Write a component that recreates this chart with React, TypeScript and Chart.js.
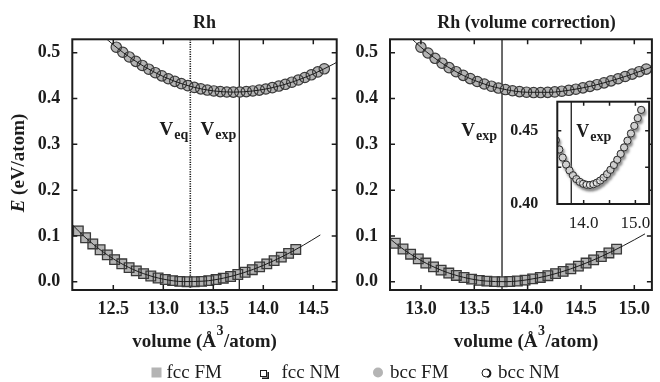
import React, { useEffect, useRef } from 'react';
import { Chart, registerables } from 'chart.js';

Chart.register(...registerables);

const FONT = '"Liberation Serif", "Times New Roman", serif';
const INK = '#1c1c1c';
const FILL = '#b4b4b4';
const EDGE = '#3a3a3a';

// ---------- Left panel: Rh ----------
const leftFccVolume = [12.150, 12.223, 12.295, 12.368, 12.440, 12.513, 12.585, 12.658, 12.730, 12.803, 12.875, 12.948, 13.020, 13.093, 13.165, 13.238, 13.310, 13.383, 13.455, 13.528, 13.600, 13.673, 13.745, 13.818, 13.890, 13.963, 14.035, 14.108, 14.180, 14.253, 14.325];
const leftFccEnergy = [0.1110, 0.0961, 0.0825, 0.0699, 0.0587, 0.0483, 0.0392, 0.0309, 0.0238, 0.0177, 0.0125, 0.0082, 0.0049, 0.0024, 0.0008, 0.0001, 0.0001, 0.0009, 0.0025, 0.0048, 0.0078, 0.0115, 0.0158, 0.0208, 0.0263, 0.0324, 0.0390, 0.0462, 0.0538, 0.0620, 0.0705];
const leftFccFitVolume = [12.0, 12.2, 12.4, 12.6, 12.8, 13.0, 13.2, 13.4, 13.6, 13.8, 14.0, 14.2, 14.4, 14.57];
const leftFccFitEnergy = [0.1455, 0.1007, 0.0648, 0.0374, 0.0179, 0.0057, 0.0004, 0.0013, 0.0078, 0.0195, 0.0357, 0.0560, 0.0797, 0.1022];
const leftBccVolume = [12.530, 12.595, 12.660, 12.725, 12.790, 12.855, 12.920, 12.985, 13.050, 13.115, 13.180, 13.245, 13.310, 13.375, 13.440, 13.505, 13.570, 13.635, 13.700, 13.765, 13.830, 13.895, 13.960, 14.025, 14.090, 14.155, 14.220, 14.285, 14.350, 14.415, 14.480, 14.545, 14.610];
const leftBccEnergy = [0.5120, 0.5010, 0.4908, 0.4812, 0.4722, 0.4640, 0.4564, 0.4495, 0.4432, 0.4375, 0.4325, 0.4281, 0.4243, 0.4211, 0.4185, 0.4165, 0.4151, 0.4143, 0.4140, 0.4143, 0.4151, 0.4165, 0.4184, 0.4208, 0.4237, 0.4272, 0.4311, 0.4356, 0.4405, 0.4459, 0.4518, 0.4581, 0.4649];
const leftBccFitVolume = [12.3, 12.5, 12.7, 12.9, 13.1, 13.3, 13.5, 13.7, 13.9, 14.1, 14.3, 14.5, 14.7, 14.75];
const leftBccFitEnergy = [0.5565, 0.5173, 0.4848, 0.4587, 0.4388, 0.4249, 0.4167, 0.4140, 0.4166, 0.4242, 0.4367, 0.4537, 0.4750, 0.4810];

// ---------- Right panel: Rh (volume correction) ----------
const rightFccVolume = [12.760, 12.832, 12.903, 12.975, 13.046, 13.118, 13.189, 13.261, 13.332, 13.404, 13.475, 13.547, 13.618, 13.690, 13.761, 13.833, 13.904, 13.976, 14.047, 14.119, 14.190, 14.262, 14.333, 14.405, 14.476, 14.548, 14.619, 14.691, 14.762, 14.834];
const rightFccEnergy = [0.0840, 0.0715, 0.0602, 0.0499, 0.0408, 0.0325, 0.0253, 0.0190, 0.0138, 0.0093, 0.0058, 0.0031, 0.0013, 0.0003, 0.0000, 0.0005, 0.0017, 0.0036, 0.0062, 0.0094, 0.0132, 0.0177, 0.0227, 0.0282, 0.0342, 0.0408, 0.0477, 0.0552, 0.0629, 0.0712];
const rightFccFitVolume = [12.6, 12.8, 13.0, 13.2, 13.4, 13.6, 13.8, 14.0, 14.2, 14.4, 14.6, 14.8, 15.0, 15.1];
const rightFccFitEnergy = [0.1159, 0.0769, 0.0466, 0.0243, 0.0096, 0.0017, 0.0002, 0.0044, 0.0138, 0.0278, 0.0458, 0.0672, 0.0915, 0.1045];
const rightBccVolume = [13.000, 13.066, 13.132, 13.198, 13.264, 13.330, 13.396, 13.462, 13.528, 13.594, 13.660, 13.726, 13.792, 13.858, 13.924, 13.990, 14.056, 14.122, 14.188, 14.254, 14.320, 14.386, 14.452, 14.518, 14.584, 14.650, 14.716, 14.782, 14.848, 14.914, 14.980, 15.046, 15.112];
const rightBccEnergy = [0.5120, 0.4994, 0.4878, 0.4771, 0.4674, 0.4586, 0.4506, 0.4435, 0.4372, 0.4317, 0.4269, 0.4229, 0.4196, 0.4170, 0.4151, 0.4138, 0.4131, 0.4130, 0.4135, 0.4145, 0.4160, 0.4180, 0.4204, 0.4233, 0.4266, 0.4302, 0.4342, 0.4386, 0.4432, 0.4481, 0.4533, 0.4586, 0.4642];
const rightBccFitVolume = [12.8, 13.0, 13.2, 13.4, 13.6, 13.8, 14.0, 14.2, 14.4, 14.6, 14.8, 15.0, 15.2];
const rightBccFitEnergy = [0.5564, 0.5120, 0.4768, 0.4501, 0.4312, 0.4193, 0.4137, 0.4136, 0.4185, 0.4274, 0.4398, 0.4549, 0.4719];

// ---------- Ticks, markers, labels ----------
const leftXTicks = [12.5, 13.0, 13.5, 14.0, 14.5];
const rightXTicks = [13.0, 13.5, 14.0, 14.5, 15.0];
const energyTicks = [0, 0.1, 0.2, 0.3, 0.4, 0.5];
const insetXTicks = [14.0, 14.5, 15.0];
const insetXLabels = ['14.0', '', '15.0'];
const insetYTicks = [0.40, 0.425, 0.45];
const insetYLabels = ['0.40', '', '0.45'];
const V_EQ = 13.27;
const V_EXP = 13.76;
const legendLabels = ['fcc FM', 'fcc NM', 'bcc FM', 'bcc NM'];
const titleLeft = 'Rh';
const titleRight = 'Rh (volume correction)';

type Pt = { x: number; y: number };
const pts = (xs: number[], ys: number[]): Pt[] => xs.map((x, i) => ({ x, y: ys[i] }));

function fixedTicks(values: number[]) {
  return (scale: any) => {
    scale.ticks = values.map((value) => ({ value }));
  };
}

function frame(chart: any, xt: number[], yt: number[], len: number) {
  const { ctx, chartArea: a, scales } = chart;
  ctx.save();
  ctx.strokeStyle = INK;
  ctx.lineWidth = 1.5;
  ctx.beginPath();
  xt.forEach((v) => {
    const x = scales.x.getPixelForValue(v);
    ctx.moveTo(x, a.top);
    ctx.lineTo(x, a.top + len);
    ctx.moveTo(x, a.bottom);
    ctx.lineTo(x, a.bottom - len);
  });
  yt.forEach((v) => {
    const y = scales.y.getPixelForValue(v);
    ctx.moveTo(a.left, y);
    ctx.lineTo(a.left + len, y);
    ctx.moveTo(a.right, y);
    ctx.lineTo(a.right - len, y);
  });
  ctx.stroke();
  ctx.lineWidth = 2;
  ctx.strokeRect(a.left, a.top, a.right - a.left, a.bottom - a.top);
  ctx.restore();
}

function vLine(chart: any, value: number, dotted: boolean) {
  const { ctx, chartArea: a, scales } = chart;
  const x = scales.x.getPixelForValue(value);
  ctx.save();
  ctx.strokeStyle = INK;
  ctx.lineWidth = dotted ? 1.6 : 1.3;
  ctx.setLineDash(dotted ? [1.2, 1.2] : []);
  ctx.beginPath();
  ctx.moveTo(x, a.top);
  ctx.lineTo(x, a.bottom);
  ctx.stroke();
  ctx.restore();
}

function vLabel(ctx: CanvasRenderingContext2D, sub: string, x: number, y: number, align: 'left' | 'right', size = 19) {
  const big = `bold ${size}px ${FONT}`;
  const small = `bold 14px ${FONT}`;
  ctx.save();
  ctx.font = big;
  const wV = ctx.measureText('V').width;
  ctx.font = small;
  const wS = ctx.measureText(sub).width;
  const x0 = align === 'right' ? x - wV - wS - 1 : x;
  ctx.fillStyle = INK;
  ctx.textAlign = 'left';
  ctx.textBaseline = 'alphabetic';
  ctx.font = big;
  ctx.fillText('V', x0, y);
  ctx.font = small;
  ctx.fillText(sub, x0 + wV + 1, y + 4);
  ctx.restore();
}

function centeredText(ctx: CanvasRenderingContext2D, text: string, cx: number, y: number, font: string) {
  ctx.save();
  ctx.font = font;
  ctx.fillStyle = INK;
  ctx.textAlign = 'center';
  ctx.textBaseline = 'alphabetic';
  ctx.fillText(text, cx, y);
  ctx.restore();
}

function xTitle(ctx: CanvasRenderingContext2D, cx: number, baseline: number) {
  const big = `bold 19px ${FONT}`;
  const small = `bold 14px ${FONT}`;
  const p1 = 'volume (Å';
  const p2 = '3';
  const p3 = '/atom)';
  ctx.save();
  ctx.font = big;
  const w1 = ctx.measureText(p1).width;
  const w3 = ctx.measureText(p3).width;
  ctx.font = small;
  const w2 = ctx.measureText(p2).width + 1;
  let x = cx - (w1 + w2 + w3) / 2;
  ctx.fillStyle = INK;
  ctx.textAlign = 'left';
  ctx.textBaseline = 'alphabetic';
  ctx.font = big;
  ctx.fillText(p1, x, baseline);
  x += w1;
  ctx.font = small;
  ctx.fillText(p2, x + 0.5, baseline - 12);
  x += w2;
  ctx.font = big;
  ctx.fillText(p3, x, baseline);
  ctx.restore();
}

function yTitle(ctx: CanvasRenderingContext2D, xBase: number, cy: number) {
  const it = `italic bold 19px ${FONT}`;
  const b = `bold 19px ${FONT}`;
  ctx.save();
  ctx.translate(xBase, cy);
  ctx.rotate(-Math.PI / 2);
  ctx.fillStyle = INK;
  ctx.textAlign = 'left';
  ctx.textBaseline = 'alphabetic';
  ctx.font = it;
  const wE = ctx.measureText('E').width;
  ctx.font = b;
  const wR = ctx.measureText(' (eV/atom)').width;
  const x = -(wE + wR) / 2;
  ctx.font = it;
  ctx.fillText('E', x, 0);
  ctx.font = b;
  ctx.fillText(' (eV/atom)', x + wE, 0);
  ctx.restore();
}

function drawLegend(ctx: CanvasRenderingContext2D) {
  const base = 378;
  ctx.save();
  ctx.font = `19px ${FONT}`;
  ctx.textAlign = 'left';
  ctx.textBaseline = 'alphabetic';
  // fcc FM
  ctx.fillStyle = FILL;
  ctx.fillRect(151.5, 367.5, 10, 10);
  ctx.fillStyle = INK;
  ctx.fillText(legendLabels[0], 166.5, base);
  // fcc NM
  ctx.strokeStyle = INK;
  ctx.lineWidth = 1;
  ctx.strokeRect(260.5, 370.5, 6, 6);
  ctx.lineWidth = 1.6;
  ctx.beginPath();
  ctx.moveTo(262, 378.2);
  ctx.lineTo(268.2, 378.2);
  ctx.lineTo(268.2, 372);
  ctx.stroke();
  ctx.fillText(legendLabels[1], 281.5, base);
  // bcc FM
  ctx.fillStyle = FILL;
  ctx.beginPath();
  ctx.arc(378, 372.5, 5, 0, Math.PI * 2);
  ctx.fill();
  ctx.fillStyle = INK;
  ctx.fillText(legendLabels[2], 390, base);
  // bcc NM
  ctx.lineWidth = 1;
  ctx.beginPath();
  ctx.arc(486, 373, 4, 0, Math.PI * 2);
  ctx.stroke();
  ctx.lineWidth = 1.6;
  ctx.beginPath();
  ctx.arc(486.6, 373.3, 4, -Math.PI * 0.45, Math.PI * 0.45);
  ctx.stroke();
  ctx.fillText(legendLabels[3], 498, base);
  ctx.restore();
}

function panelDatasets(fccV: number[], fccE: number[], fccFitV: number[], fccFitE: number[], bccV: number[], bccE: number[], bccFitV: number[], bccFitE: number[]) {
  return [
    { label: 'fcc fit', data: pts(fccFitV, fccFitE), showLine: true, pointRadius: 0, borderColor: INK, borderWidth: 1, cubicInterpolationMode: 'monotone', order: 0 },
    { label: 'bcc fit', data: pts(bccFitV, bccFitE), showLine: true, pointRadius: 0, borderColor: INK, borderWidth: 1, cubicInterpolationMode: 'monotone', order: 0 },
    { label: legendLabels[1], data: pts(fccV, fccE), pointStyle: 'rect', pointRadius: 6.8, backgroundColor: 'rgba(0,0,0,0)', borderColor: EDGE, borderWidth: 1.3, order: 1 },
    { label: legendLabels[3], data: pts(bccV, bccE), pointStyle: 'circle', pointRadius: 5.2, backgroundColor: 'rgba(0,0,0,0)', borderColor: EDGE, borderWidth: 1.2, order: 1 },
    { label: legendLabels[0], data: pts(fccV, fccE), pointStyle: 'rect', pointRadius: 7.2, backgroundColor: FILL, borderColor: FILL, borderWidth: 0, order: 2 },
    { label: legendLabels[2], data: pts(bccV, bccE), pointStyle: 'circle', pointRadius: 5.2, backgroundColor: FILL, borderColor: FILL, borderWidth: 0, order: 2 },
  ];
}

function panelOptions(xMin: number, xMax: number, xTicks: number[], padLeft: number, yWidth: number, padRight: number) {
  const tickFont = { family: FONT, size: 18, weight: 'bold' as const };
  return {
    animation: false as const,
    responsive: false,
    events: [] as any[],
    layout: { padding: { left: padLeft, right: padRight, top: 39.3, bottom: 0 } },
    plugins: { legend: { display: false }, tooltip: { enabled: false }, title: { display: false } },
    scales: {
      x: {
        type: 'linear' as const,
        min: xMin,
        max: xMax,
        afterBuildTicks: fixedTicks(xTicks),
        afterFit: (s: any) => { s.height = 92; },
        grid: { display: false, drawTicks: false },
        border: { display: false },
        ticks: { font: tickFont, color: INK, padding: 9, maxRotation: 0, autoSkip: false, callback: (v: any) => Number(v).toFixed(1) },
      },
      y: {
        type: 'linear' as const,
        min: -0.018,
        max: 0.5293,
        afterBuildTicks: fixedTicks(energyTicks),
        afterFit: (s: any) => { s.width = yWidth; },
        grid: { display: false, drawTicks: false },
        border: { display: false },
        ticks: { font: tickFont, color: INK, padding: 12, autoSkip: false, callback: (v: any) => Number(v).toFixed(1) },
      },
    },
  };
}

const leftDeco = {
  id: 'leftDeco',
  beforeDatasetsDraw(chart: any) {
    vLine(chart, V_EQ, true);
    vLine(chart, V_EXP, false);
  },
  afterDraw(chart: any) {
    const { ctx, chartArea: a, scales } = chart;
    frame(chart, leftXTicks, energyTicks, 5);
    vLabel(ctx, 'eq', scales.x.getPixelForValue(V_EQ) - 2, 135, 'right');
    vLabel(ctx, 'exp', scales.x.getPixelForValue(V_EXP) - 3, 135, 'right');
    centeredText(ctx, titleLeft, (a.left + a.right) / 2, 27.6, `bold 18px ${FONT}`);
    xTitle(ctx, (a.left + a.right) / 2, 347);
    yTitle(ctx, 24, 163);
    drawLegend(ctx);
  },
};

const rightDeco = {
  id: 'rightDeco',
  beforeDatasetsDraw(chart: any) {
    vLine(chart, V_EXP, false);
  },
  afterDraw(chart: any) {
    const { ctx, chartArea: a, scales } = chart;
    frame(chart, rightXTicks, energyTicks, 5);
    vLabel(ctx, 'exp', scales.x.getPixelForValue(V_EXP) - 5, 136, 'right');
    centeredText(ctx, titleRight, 526.5, 27.6, `bold 18px ${FONT}`);
    xTitle(ctx, 526, 347);
  },
};

const insetDeco = {
  id: 'insetDeco',
  beforeDraw(chart: any) {
    const { ctx, chartArea: a } = chart;
    ctx.save();
    ctx.fillStyle = '#ffffff';
    ctx.fillRect(a.left, a.top, a.right - a.left, a.bottom - a.top);
    ctx.restore();
  },
  beforeDatasetsDraw(chart: any) {
    vLine(chart, V_EXP, false);
  },
  beforeDatasetDraw(chart: any, args: any) {
    if (args.index === 1) {
      const ctx = chart.ctx;
      ctx.save();
      ctx.shadowColor = 'rgba(140,140,140,1)';
      ctx.shadowOffsetX = 1.5;
      ctx.shadowOffsetY = 2.5;
      ctx.shadowBlur = 2.5;
    }
  },
  afterDatasetDraw(chart: any, args: any) {
    if (args.index === 1) chart.ctx.restore();
  },
  afterDraw(chart: any) {
    const { ctx, scales } = chart;
    frame(chart, insetXTicks, insetYTicks, 4);
    vLabel(ctx, 'exp', scales.x.getPixelForValue(V_EXP) + 5, 136.5, 'left', 18);
  },
};

function leftConfig(): any {
  return {
    type: 'scatter',
    data: { datasets: panelDatasets(leftFccVolume, leftFccEnergy, leftFccFitVolume, leftFccFitEnergy, leftBccVolume, leftBccEnergy, leftBccFitVolume, leftBccFitEnergy) },
    options: panelOptions(12.09, 14.734, leftXTicks, 0, 72.3, 660 - 336.7),
    plugins: [leftDeco],
  };
}

function rightConfig(): any {
  return {
    type: 'scatter',
    data: { datasets: panelDatasets(rightFccVolume, rightFccEnergy, rightFccFitVolume, rightFccFitEnergy, rightBccVolume, rightBccEnergy, rightBccFitVolume, rightBccFitEnergy) },
    options: panelOptions(12.71, 15.165, rightXTicks, 330, 60, 2),
    plugins: [rightDeco],
  };
}

function insetConfig(): any {
  return {
    type: 'scatter',
    data: {
      datasets: [
        { label: legendLabels[3], data: pts(rightBccVolume, rightBccEnergy), pointStyle: 'circle', pointRadius: 3.6, backgroundColor: 'rgba(255,255,255,0.5)', borderColor: '#2c2c2c', borderWidth: 1, order: 0 },
        { label: legendLabels[2], data: pts(rightBccVolume, rightBccEnergy), pointStyle: 'circle', pointRadius: 3.9, backgroundColor: '#a0a0a0', borderColor: '#a0a0a0', borderWidth: 0, order: 1 },
      ],
    },
    options: {
      animation: false,
      responsive: false,
      events: [],
      layout: { padding: { left: 500, right: 5, top: 101.7, bottom: 0 } },
      plugins: { legend: { display: false }, tooltip: { enabled: false }, title: { display: false } },
      scales: {
        x: {
          type: 'linear',
          min: 13.49,
          max: 15.266,
          afterBuildTicks: fixedTicks(insetXTicks),
          afterFit: (s: any) => { s.height = 178; },
          grid: { display: false, drawTicks: false },
          border: { display: false },
          ticks: { font: { family: FONT, size: 17 }, color: INK, padding: 9, maxRotation: 0, autoSkip: false, callback: (_v: any, i: number) => insetXLabels[i] },
        },
        y: {
          type: 'linear',
          min: 0.40,
          max: 0.4698,
          afterBuildTicks: fixedTicks(insetYTicks),
          afterFit: (s: any) => { s.width = 57.3; },
          grid: { display: false, drawTicks: false },
          border: { display: false },
          ticks: { font: { family: FONT, size: 16, weight: 'bold' }, color: INK, padding: 19, autoSkip: false, callback: (_v: any, i: number) => insetYLabels[i] },
        },
      },
    },
    plugins: [insetDeco],
  };
}

export default function App() {
  const leftRef = useRef<HTMLCanvasElement>(null);
  const rightRef = useRef<HTMLCanvasElement>(null);
  const insetRef = useRef<HTMLCanvasElement>(null);

  useEffect(() => {
    const charts = [
      new Chart(leftRef.current as HTMLCanvasElement, leftConfig()),
      new Chart(rightRef.current as HTMLCanvasElement, rightConfig()),
      new Chart(insetRef.current as HTMLCanvasElement, insetConfig()),
    ];
    return () => charts.forEach((c) => c.destroy());
  }, []);

  const cs: React.CSSProperties = { position: 'absolute', left: 0, top: 0, width: 660, height: 382 };
  return (
    <div style={{ position: 'fixed', left: 0, top: 0, width: 660, height: 382, background: '#ffffff' }}>
      <canvas ref={leftRef} width={660} height={382} style={cs} />
      <canvas ref={rightRef} width={660} height={382} style={cs} />
      <canvas ref={insetRef} width={660} height={382} style={cs} />
    </div>
  );
}
